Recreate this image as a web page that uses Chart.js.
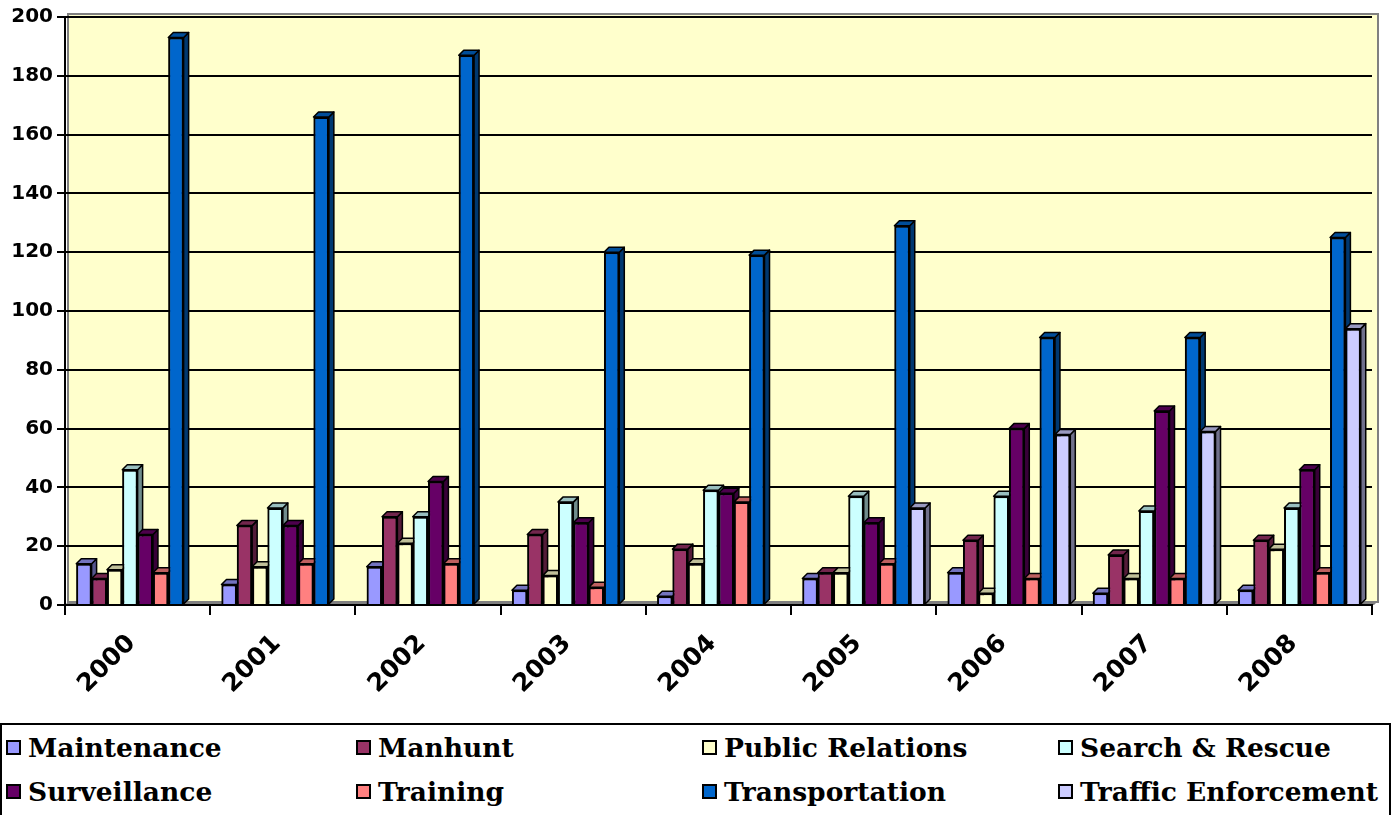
<!DOCTYPE html>
<html lang="en">

<head>
    <meta charset="UTF-8">
    <title>Flight Hours by Mission</title>
    <script src="https://cdn.jsdelivr.net/npm/chart.js"></script>
    <style>
        html, body {
            margin: 0;
            padding: 0;
            background: #ffffff;
            overflow: hidden;
        }

        .wrap {
            position: relative;
            width: 1398px;
            height: 815px;
        }

        #chart {
            position: absolute;
            left: 0;
            top: 0;
        }

        .legend {
            position: absolute;
            left: 0;
            top: 723px;
            width: 1391px;
            height: 110px;
            border: 2px solid #000;
            box-sizing: border-box;
            font-family: "DejaVu Serif", serif;
            font-weight: bold;
            font-size: 26.5px;
            color: #000;
        }

        .legend-item {
            position: absolute;
            display: flex;
            align-items: center;
            white-space: nowrap;
        }

        .swatch {
            width: 15px;
            height: 15px;
            border: 2px solid #000;
            margin-right: 7px;
            box-sizing: border-box;
        }
    </style>
</head>

<body>
    <div class="wrap">
        <canvas id="chart" width="1398" height="720"></canvas>
        <div class="legend" id="legend"></div>
    </div>

    <script>
        // Data
        const years = ['2000', '2001', '2002', '2003', '2004', '2005', '2006', '2007', '2008'];
        const maintenance = [14, 7, 13, 5, 3, 9, 11, 4, 5];
        const manhunt = [9, 27, 30, 24, 19, 11, 22, 17, 22];
        const publicRelations = [12, 13, 21, 10, 14, 11, 4, 9, 19];
        const searchRescue = [46, 33, 30, 35, 39, 37, 37, 32, 33];
        const surveillance = [24, 27, 42, 28, 38, 28, 60, 66, 46];
        const training = [11, 14, 14, 6, 35, 14, 9, 9, 11];
        const transportation = [193, 166, 187, 120, 119, 129, 91, 91, 125];
        const trafficEnforcement = [0, 0, 0, 0, 0, 33, 58, 59, 94];
        const yTicks = [0, 20, 40, 60, 80, 100, 120, 140, 160, 180, 200];

        const seriesNames = ['Maintenance', 'Manhunt', 'Public Relations', 'Search & Rescue',
            'Surveillance', 'Training', 'Transportation', 'Traffic Enforcement'];
        const seriesData = [maintenance, manhunt, publicRelations, searchRescue,
            surveillance, training, transportation, trafficEnforcement];
        const seriesColors = ['#9999FF', '#993366', '#FFFFCC', '#CCFFFF',
            '#660066', '#FF8080', '#0066CC', '#CCCCFF'];

        function shade(hex, f) {
            const n = parseInt(hex.slice(1), 16);
            const r = Math.round(((n >> 16) & 255) * f);
            const g = Math.round(((n >> 8) & 255) * f);
            const b = Math.round((n & 255) * f);
            return `rgb(${r},${g},${b})`;
        }

        // yellow back wall + grey floor
        const wallPlugin = {
            id: 'wall',
            beforeDraw(chart) {
                const { ctx, chartArea: a } = chart;
                ctx.save();
                ctx.fillStyle = '#FFFFCC';
                ctx.fillRect(a.left + 3, a.top - 3, a.right - a.left + 3, a.bottom - a.top);
                ctx.strokeStyle = '#808080';
                ctx.lineWidth = 2;
                ctx.strokeRect(a.left + 3, a.top - 3, a.right - a.left + 3, a.bottom - a.top);
                ctx.fillStyle = '#808080';
                ctx.beginPath();
                ctx.moveTo(a.left, a.bottom);
                ctx.lineTo(a.left + 4, a.bottom - 4);
                ctx.lineTo(a.right + 6, a.bottom - 4);
                ctx.lineTo(a.right + 2, a.bottom);
                ctx.closePath();
                ctx.fill();
                ctx.restore();
            }
        };

        // depth faces, redrawn left to right so each front covers the previous side
        const depthPlugin = {
            id: 'depth',
            afterDatasetsDraw(chart) {
                const ctx = chart.ctx;
                const d = 5;
                ctx.save();
                ctx.lineWidth = 1.5;
                ctx.strokeStyle = '#000';
                ctx.lineJoin = 'round';
                chart.data.datasets.forEach((ds, i) => {
                    const meta = chart.getDatasetMeta(i);
                    meta.data.forEach(bar => {
                        const p = bar.getProps(['x', 'y', 'base', 'width'], true);
                        if (p.base - p.y < 1) return;
                        const l = p.x - p.width / 2;
                        const r = p.x + p.width / 2;
                        ctx.fillStyle = shade(ds.backgroundColor, 0.55);
                        ctx.beginPath();
                        ctx.moveTo(r, p.y);
                        ctx.lineTo(r + d, p.y - d);
                        ctx.lineTo(r + d, p.base - d);
                        ctx.lineTo(r, p.base);
                        ctx.closePath();
                        ctx.fill();
                        ctx.stroke();
                        ctx.fillStyle = shade(ds.backgroundColor, 0.75);
                        ctx.beginPath();
                        ctx.moveTo(l, p.y);
                        ctx.lineTo(l + d, p.y - d);
                        ctx.lineTo(r + d, p.y - d);
                        ctx.lineTo(r, p.y);
                        ctx.closePath();
                        ctx.fill();
                        ctx.stroke();
                        bar.draw(ctx);
                    });
                });
                ctx.restore();
            }
        };

        const chart = new Chart(document.getElementById('chart'), {
            type: 'bar',
            data: {
                labels: years,
                datasets: seriesNames.map((name, i) => ({
                    label: name,
                    data: seriesData[i],
                    backgroundColor: seriesColors[i],
                    borderColor: '#000',
                    borderWidth: 2,
                    categoryPercentage: 0.845,
                    barPercentage: 1.0
                }))
            },
            options: {
                responsive: false,
                animation: false,
                layout: { padding: { top: 17, right: 26, left: 0, bottom: 0 } },
                plugins: {
                    legend: { display: false },
                    tooltip: { enabled: false }
                },
                scales: {
                    x: {
                        afterFit: s => { s.height = 115; },
                        grid: {
                            offset: true,
                            drawOnChartArea: false,
                            color: '#000',
                            lineWidth: 2,
                            tickLength: 10
                        },
                        border: { color: '#000', width: 2 },
                        ticks: {
                            minRotation: 45,
                            maxRotation: 45,
                            padding: 14,
                            labelOffset: -6,
                            color: '#000',
                            font: { family: 'DejaVu Sans', weight: 'bold', size: 25 }
                        }
                    },
                    y: {
                        min: 0,
                        max: 200,
                        afterFit: s => { s.width = 65; },
                        afterBuildTicks: s => { s.ticks = yTicks.map(v => ({ value: v })); },
                        grid: {
                            color: '#000',
                            lineWidth: 2,
                            tickLength: 8
                        },
                        border: { color: '#000', width: 2 },
                        ticks: {
                            padding: 4,
                            color: '#000',
                            font: { family: 'DejaVu Sans', weight: 'bold', size: 20 }
                        }
                    }
                }
            },
            plugins: [wallPlugin, depthPlugin]
        });

        // legend, 4 columns x 2 rows
        const colX = [4, 354, 700, 1056];
        const rowY = [7, 51];
        const legend = document.getElementById('legend');
        seriesNames.forEach((name, i) => {
            const item = document.createElement('div');
            item.className = 'legend-item';
            item.style.left = colX[i % 4] + 'px';
            item.style.top = rowY[Math.floor(i / 4)] + 'px';
            const sw = document.createElement('span');
            sw.className = 'swatch';
            sw.style.background = seriesColors[i];
            const txt = document.createElement('span');
            txt.textContent = name;
            item.appendChild(sw);
            item.appendChild(txt);
            legend.appendChild(item);
        });
    </script>
</body>

</html>
